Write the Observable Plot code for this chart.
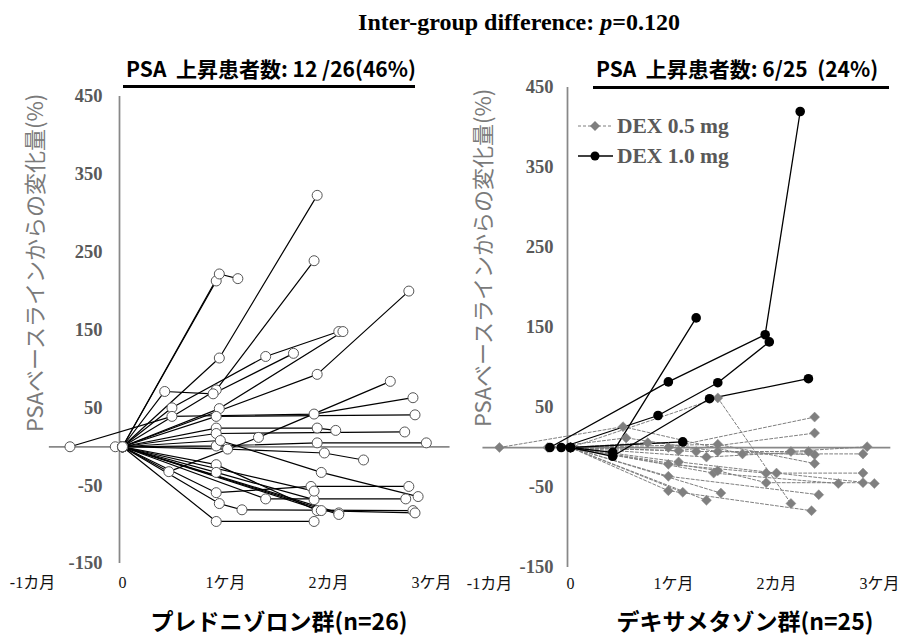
<!DOCTYPE html>
<html><head><meta charset="utf-8">
<script src="https://cdn.jsdelivr.net/npm/d3@7"></script>
<script src="https://cdn.jsdelivr.net/npm/@observablehq/plot@0.6"></script>
<style>
body{margin:0;background:#fff;}
#wrap{position:relative;width:901px;height:637px;overflow:hidden;background:#fff;}
.abs{position:absolute;white-space:pre;line-height:1;}
.ctr{transform:translate(-50%,-50%);}
.title{font-family:"Liberation Serif",serif;font-weight:bold;font-size:24px;color:#000;}
.sub{font-family:"Noto Sans CJK JP",sans-serif;font-weight:bold;font-size:21px;color:#000;}
.bottom{font-family:"Noto Sans CJK JP",sans-serif;font-weight:bold;font-size:23px;color:#000;}
.ytitle{font-family:"Noto Sans CJK JP",sans-serif;font-size:22px;color:#7a7a7a;transform:translate(-50%,-50%) rotate(-90deg);}
.rule{position:absolute;height:3px;background:#000;}
.plot{position:absolute;top:0;}
.plot svg{overflow:visible;}
</style></head>
<body><div id="wrap">
<div class="abs ctr title" style="left:519px;top:22px;">Inter-group difference: <i>p</i>=0.120</div>
<div class="abs ctr sub" style="left:271px;top:68px;">PSA  上昇患者数: 12 /26(46%)</div>
<div class="rule" style="left:123px;top:85px;width:292px;"></div>
<div class="abs ctr sub" style="left:737px;top:68px;">PSA  上昇患者数: 6/25  (24%)</div>
<div class="rule" style="left:593px;top:86px;width:296px;"></div>
<div class="abs ytitle" style="left:33px;top:263px;">PSAベースラインからの変化量(%)</div>
<div class="abs ytitle" style="left:481px;top:258px;">PSAベースラインからの変化量(%)</div>
<div class="abs ctr bottom" style="left:279px;top:620px;">プレドニゾロン群(n=26)</div>
<div class="abs ctr bottom" style="left:745px;top:620px;">デキサメタゾン群(n=25)</div>
<div id="left" class="plot" style="left:0px;"></div>
<div id="right" class="plot" style="left:450px;"></div>
<svg class="abs" style="left:570px;top:108px;" width="200" height="64">
  <line x1="8" y1="18" x2="43" y2="18" stroke="#7f7f7f" stroke-width="1" stroke-dasharray="3,2"/>
  <path d="M25,13 L30,18 L25,23 L20,18 Z" fill="#7f7f7f"/>
  <line x1="8" y1="48" x2="43" y2="48" stroke="#000" stroke-width="1.3"/>
  <circle cx="25" cy="48" r="4.5" fill="#000"/>
  <text x="47" y="18" dominant-baseline="central" font-family="Liberation Serif" font-weight="bold" font-size="21.5" fill="#595959">DEX 0.5 mg</text>
  <text x="47" y="48" dominant-baseline="central" font-family="Liberation Serif" font-weight="bold" font-size="21.5" fill="#595959">DEX 1.0 mg</text>
</svg>
</div>
<script>
// Tick values and labels
const yTicks = [450, 350, 250, 150, 50, -50, -150];
const xTicks = [-1, 0, 1, 2, 3];
const xTickLabels = ["-1カ月", "0", "1ケ月", "2カ月", "3ケ月"];

// Prednisolone group: each patient = [[month, % change from baseline], ...]
const prednisolone = [
  [[0,0],[0.91,213]],
  [[0,0],[0.94,222],[1.12,216]],
  [[0,0],[0.94,114],[1.89,323]],
  [[0,0],[0.91,73],[1.86,239]],
  [[0,0],[1.89,93],[2.78,200]],
  [[0,0],[0.48,50],[1.39,116],[2.10,148]],
  [[0,0],[0.94,49],[2.14,148]],
  [[0,0],[0.41,71],[0.88,68],[1.66,120]],
  [[0,0],[0.45,-32],[1.32,12],[2.60,84]],
  [[-0.51,0],[0.48,39],[1.86,42],[2.82,63]],
  [[0,0],[0.91,24],[1.89,24],[2.07,21]],
  [[0,0],[0.91,39],[2.84,41]],
  [[0,0],[0.91,17],[2.74,19]],
  [[-0.07,0],[0.91,1],[1.89,5],[2.95,5]],
  [[0,0],[1.02,-3],[1.96,-8],[2.34,-17]],
  [[0,0],[0.95,8],[1.93,-33],[2.87,-64]],
  [[0,0],[0.91,-96],[1.86,-96]],
  [[0,0],[0.91,-59],[1.83,-51],[2.78,-51]],
  [[0,0],[1.39,-67],[2.75,-67]],
  [[0,0],[0.94,-73],[1.16,-81],[2.82,-82]],
  [[0,0],[0.91,-23],[1.89,-82],[2.84,-85]],
  [[0,0],[0.91,-33],[1.86,-68]],
  [[0,0],[1.93,-82]],
  [[0,0],[2.10,-85]],
  [[0,0],[1.86,-57]],
  [[0,0],[2.10,-87]]
];

// Dexamethasone 1.0 mg
const dex10 = [
  [[-0.20,0],[0.95,82],[1.89,141],[2.23,420]],
  [[-0.09,0],[0.85,40],[1.43,81],[1.93,132]],
  [[0,0],[0.41,-11],[1.35,61],[2.31,86]],
  [[0,0],[0.41,-6],[1.22,162]],
  [[0,0],[1.09,7]]
];

// Dexamethasone 0.5 mg
const dex05 = [
  [[-0.69,0],[0.51,26],[1.67,-8],[2.84,-8]],
  [[-0.22,0],[0.54,12],[1.43,-5],[2.37,-9]],
  [[0,0],[0.95,0],[2.37,38]],
  [[0,0],[1.05,-4],[2.37,18]],
  [[0,0],[1.43,62],[2.14,-70]],
  [[0,0],[1.22,-5],[2.14,-5],[2.88,1]],
  [[0,0],[1.32,-12],[2.31,-5]],
  [[0,0],[1.43,4],[2.37,-20]],
  [[0,0],[0.95,-21],[1.90,-32],[2.84,-32]],
  [[0,0],[1.05,-18],[2.00,-32],[2.95,-45]],
  [[0,0],[1.39,-32],[2.60,-45]],
  [[0,0],[1.43,-29],[1.90,-44],[2.84,-44]],
  [[0,0],[0.95,-36],[2.41,-59]],
  [[0,0],[0.95,-54],[2.34,-79]],
  [[0,0],[1.09,-56]],
  [[0,0],[1.32,-66]],
  [[0,0],[1.46,-57]],
  [[0,0],[0.75,6]]
];

const rows = (traj) => traj.flatMap((t, i) => t.map(([x, y]) => ({id: i, x, y})));

function axesMarks(zeroFrom, zeroTo, tickDx, labelDy, firstDx) {
  const labelStyle = {fontFamily: "Liberation Serif, Noto Sans CJK JP", fontSize: 16, fill: "#111"};
  return [
    Plot.ruleY([0], {x1: () => zeroFrom, x2: () => zeroTo, stroke: "#888", strokeWidth: 1.75}),
    Plot.ruleX([0], {y1: () => -150, y2: () => 450, dx: -3, stroke: "#888", strokeWidth: 1.75}),
    Plot.text(yTicks, {x: () => 0, y: d => d, text: d => String(d), dx: tickDx, textAnchor: "end",
      fontFamily: "Liberation Serif", fontWeight: "bold", fontSize: 18.5, fill: "#595959"}),
    Plot.text(xTicks.slice(0, 1), {x: d => d, y: () => -150, text: () => xTickLabels[0], dy: labelDy, dx: firstDx, ...labelStyle}),
    Plot.text(xTicks.slice(1), {x: d => d, y: () => -150, text: (d, i) => xTickLabels[i + 1], dy: labelDy, ...labelStyle})
  ];
}

const P = rows(prednisolone);
const left = Plot.plot({
  width: 450, height: 637,
  marginLeft: 19, marginRight: 19, marginTop: 96, marginBottom: 74,
  x: {domain: [-1, 3], axis: null},
  y: {domain: [-150, 450], axis: null},
  marks: [
    ...axesMarks(-0.71, 3.18, -20, 19, 13),
    Plot.line(P, {x: "x", y: "y", z: "id", stroke: "#000", strokeWidth: 1.2}),
    Plot.dot(P, {x: "x", y: "y", r: 5, fill: "#fff", stroke: "#555", strokeWidth: 1})
  ]
});
document.getElementById("left").appendChild(left);

const D5 = rows(dex05);
const D10 = rows(dex10);
const right = Plot.plot({
  width: 451, height: 637,
  marginLeft: 17, marginRight: 22, marginTop: 87, marginBottom: 70,
  x: {domain: [-1, 3], axis: null},
  y: {domain: [-150, 450], axis: null},
  marks: [
    ...axesMarks(-0.85, 3.11, -17, 16, 22),
    Plot.line(D5, {x: "x", y: "y", z: "id", stroke: "#7f7f7f", strokeWidth: 1, strokeDasharray: "3,2"}),
    Plot.line(D10, {x: "x", y: "y", z: "id", stroke: "#000", strokeWidth: 1.3}),
    Plot.dot(D5, {x: "x", y: "y", r: 4.5, symbol: "diamond2", fill: "#7f7f7f", stroke: "#8a8a8a", strokeWidth: 0.5}),
    Plot.dot(D10, {x: "x", y: "y", r: 4.8, fill: "#000"})
  ]
});
document.getElementById("right").appendChild(right);
</script>
</body></html>
